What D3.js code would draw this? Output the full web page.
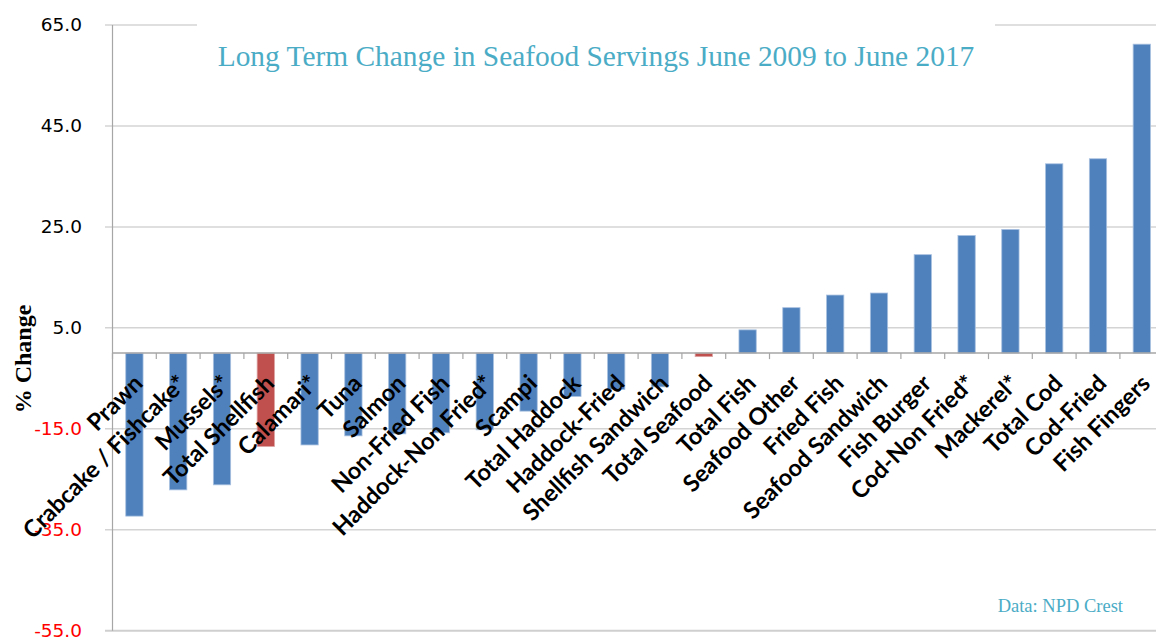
<!DOCTYPE html>
<html>
<head>
<meta charset="utf-8">
<script src="https://cdn.jsdelivr.net/npm/d3@7"></script>
<style>
  body { margin: 0; background: #fff; }
  svg { display: block; }
</style>
</head>
<body>
<svg width="1156" height="639"></svg>
<script>
var categories = ["Prawn", "Crabcake / Fishcake*", "Mussels*", "Total Shellfish", "Calamari*",
  "Tuna", "Salmon", "Non-Fried Fish", "Haddock-Non Fried*", "Scampi", "Total Haddock",
  "Haddock-Fried", "Shellfish Sandwich", "Total Seafood", "Total Fish", "Seafood Other",
  "Fried Fish", "Seafood Sandwich", "Fish Burger", "Cod-Non Fried*", "Mackerel*",
  "Total Cod", "Cod-Fried", "Fish Fingers"];
var values = [-32.3, -27.1, -26.1, -18.5, -18.2, -16.4, -16.0, -15.8, -15.2, -11.5, -8.6,
  -7.2, -6.7, -0.7, 4.6, 9.0, 11.5, 11.9, 19.5, 23.3, 24.5, 37.5, 38.5, 61.2];
var totals = ["Total Shellfish", "Total Seafood"];
var yTicks = [65, 45, 25, 5, -15, -35, -55];

var svg = d3.select("svg");

var x = d3.scaleBand()
    .domain(categories)
    .range([112.5, 1163.7])
    .paddingInner(0.605)
    .paddingOuter(0.3025);

var y = d3.scaleLinear()
    .domain([-55, 65])
    .range([630.7, 25]);

// gridlines
svg.append("g")
    .selectAll("line")
    .data(yTicks)
    .enter().append("line")
    .attr("x1", 105)
    .attr("x2", 1156)
    .attr("y1", function (d) { return y(d); })
    .attr("y2", function (d) { return y(d); })
    .attr("stroke", function (d) { return d == -55 ? "#cfcfcf" : "#d4d4d4"; })
    .attr("stroke-width", function (d) { return d == -55 ? 2 : 1.5; });

// y axis labels (plain hyphen like the original)
svg.append("g")
    .selectAll("text")
    .data(yTicks)
    .enter().append("text")
    .attr("x", 82)
    .attr("y", function (d) { return y(d); })
    .attr("dy", "0.34em")
    .attr("text-anchor", "end")
    .attr("font-family", "DejaVu Sans, Verdana, sans-serif")
    .attr("font-size", 18.5)
    .attr("fill", function (d) { return d < 0 ? "#ff0000" : "#000"; })
    .text(function (d) { return d.toFixed(1); });

// bars
svg.append("g")
    .selectAll("rect")
    .data(values)
    .enter().append("rect")
    .attr("x", function (d, i) { return x(categories[i]); })
    .attr("width", x.bandwidth())
    .attr("y", function (d) { return y(Math.max(0, d)); })
    .attr("height", function (d) { return Math.abs(y(d) - y(0)); })
    .attr("fill", function (d, i) { return totals.indexOf(categories[i]) >= 0 ? "#c0504d" : "#4f81bd"; })
    .attr("stroke", function (d, i) { return totals.indexOf(categories[i]) >= 0 ? "#dba3a2" : "#a9c1e0"; })
    .attr("stroke-width", 0.8);

// y axis line
svg.append("line")
    .attr("x1", 112.5).attr("x2", 112.5)
    .attr("y1", y(65)).attr("y2", y(-55))
    .attr("stroke", "#a6a6a6")
    .attr("stroke-width", 1.2);

// zero axis with category ticks
svg.append("line")
    .attr("x1", 112.5).attr("x2", 1156)
    .attr("y1", y(0)).attr("y2", y(0))
    .attr("stroke", "#a6a6a6")
    .attr("stroke-width", 1.5);

svg.append("g")
    .selectAll("line")
    .data(categories)
    .enter().append("line")
    .attr("x1", function (d) { return x(d) - x.step() * x.paddingOuter(); })
    .attr("x2", function (d) { return x(d) - x.step() * x.paddingOuter(); })
    .attr("y1", y(0))
    .attr("y2", y(0) + 6)
    .attr("stroke", "#a6a6a6")
    .attr("stroke-width", 1.2);

// category labels
svg.append("g")
    .selectAll("text")
    .data(categories)
    .enter().append("text")
    .attr("transform", function (d) {
        return "translate(" + (x(d) + x.bandwidth() / 2 + 4) + "," + 379 + ") rotate(-45)";
    })
    .attr("text-anchor", "end")
    .attr("dy", "0.35em")
    .attr("font-family", "Lato, sans-serif")
    .attr("font-weight", "bold")
    .attr("font-size", 23.5)
    .attr("fill", "#000")
    .text(function (d) { return d; });

// y title with white box
svg.append("rect")
    .attr("x", 6).attr("y", 298)
    .attr("width", 35).attr("height", 124)
    .attr("fill", "#fff");

svg.append("text")
    .attr("transform", "translate(31,359) rotate(-90)")
    .attr("text-anchor", "middle")
    .attr("font-family", "Liberation Serif, Times New Roman, serif")
    .attr("font-weight", "bold")
    .attr("font-size", 24)
    .text("% Change");

// title with white box
svg.append("rect")
    .attr("x", 197).attr("y", 18)
    .attr("width", 798).attr("height", 60)
    .attr("fill", "#fff");

svg.append("text")
    .attr("x", 596)
    .attr("y", 66)
    .attr("text-anchor", "middle")
    .attr("font-family", "Liberation Serif, Times New Roman, serif")
    .attr("font-size", 29.4)
    .attr("fill", "#4bacc6")
    .text("Long Term Change in Seafood Servings June 2009 to June 2017");

svg.append("text")
    .attr("x", 1123)
    .attr("y", 612)
    .attr("text-anchor", "end")
    .attr("font-family", "Liberation Serif, Times New Roman, serif")
    .attr("font-size", 18.5)
    .attr("fill", "#4bacc6")
    .text("Data: NPD Crest");
</script>
</body>
</html>
